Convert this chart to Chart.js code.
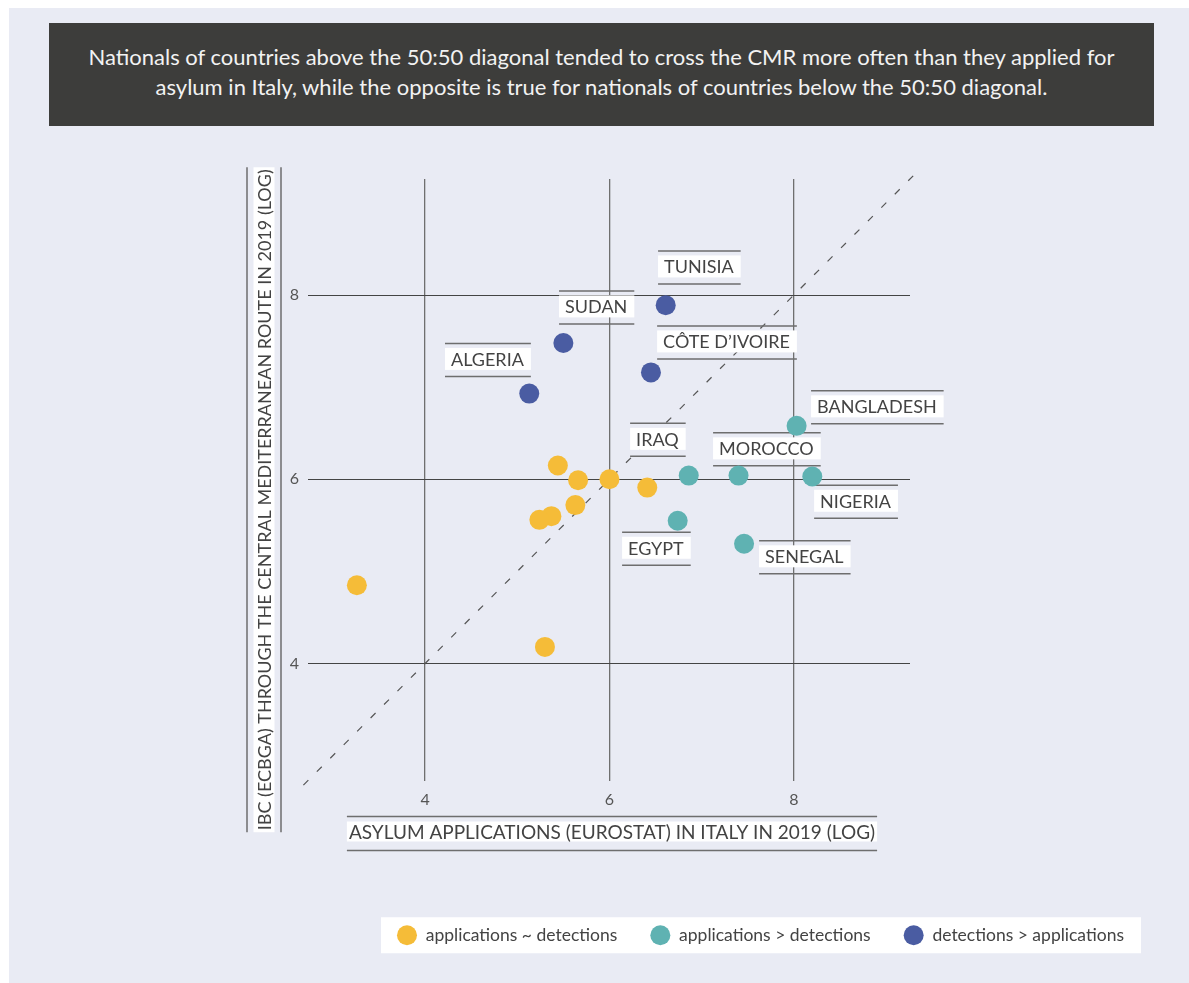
<!DOCTYPE html>
<html>
<head>
<meta charset="utf-8">
<script src="https://cdn.jsdelivr.net/npm/chart.js@4.4.1/dist/chart.umd.min.js"></script>
<style>
  html, body { margin: 0; padding: 0; background: #ffffff; }
  body { width: 1189px; height: 983px; position: relative; overflow: hidden; font-family: Lato, "Open Sans", sans-serif; }
  #panel { position: absolute; left: 9px; top: 8px; width: 1180px; height: 975px; background: #e9ebf4; }
  #headline { position: absolute; left: 49px; top: 23px; width: 1105px; height: 103px; background: #3d3d3b; color: #f2f2f2;
              font-size: 22px; line-height: 30px; text-align: center; display: flex; align-items: center; justify-content: center;
              box-sizing: border-box; padding-bottom: 5px; }
  #wrap { position: absolute; left: 0; top: 0; width: 1189px; height: 983px; }
</style>
</head>
<body>
<div id="panel"></div>
<div id="headline"><div>Nationals of countries above the 50:50 diagonal tended to cross the CMR more often than they applied for<br>asylum in Italy, while the opposite is true for nationals of countries below the 50:50 diagonal.</div></div>
<div id="wrap"><canvas id="c"></canvas></div>
<script>
// ---------- data ----------
const categories = ['applications ~ detections', 'applications > detections', 'detections > applications'];

const similarX  = [5.44, 5.66, 6.00, 6.41, 5.63, 5.37, 5.24, 3.26, 5.30];
const similarY  = [6.15, 5.99, 6.00, 5.91, 5.72, 5.60, 5.56, 4.85, 4.18];

const appsMoreX = [8.03, 6.86, 7.40, 8.20, 6.74, 7.46];
const appsMoreY = [6.58, 6.04, 6.04, 6.03, 5.55, 5.30];

const detMoreX  = [6.61, 5.50, 6.45, 5.13];
const detMoreY  = [7.89, 7.48, 7.16, 6.93];

const tickValues = [4, 6, 8];
const axisRange  = [2.73, 9.26];
const diagonal   = [2.68, 9.34];

const xTitle = 'ASYLUM APPLICATIONS (EUROSTAT) IN ITALY IN 2019 (LOG)';
const yTitle = 'IBC (ECBGA) THROUGH THE CENTRAL MEDITERRANEAN ROUTE IN 2019 (LOG)';

const countryNames = ['TUNISIA', 'SUDAN', 'CÔTE D’IVOIRE', 'ALGERIA', 'BANGLADESH', 'IRAQ', 'MOROCCO', 'NIGERIA', 'EGYPT', 'SENEGAL'];
// anchor of each label box (left edge, vertical centre) in data units
const labelAnchorX = [6.527, 5.453, 6.517, 4.216, 8.187, 6.224, 7.124, 8.220, 6.137, 7.623];
const labelAnchorY = [8.300, 7.866, 7.486, 7.296, 6.781, 6.428, 6.325, 5.756, 5.246, 5.153];

// ---------- styles ----------
const colors = ['#f5bc38', '#5fb2b2', '#4a5ca2'];
const FONT = 'Lato, "Open Sans", sans-serif';
const textColor = '#434343';

function pts(xs, ys) { return xs.map((x, i) => ({ x: x, y: ys[i] })); }

const decor = {
  id: 'decor',
  beforeDraw(chart) {
    const ctx = chart.ctx;
    const ca = chart.chartArea;
    // legend white background
    const lg = chart.legend;
    if (lg && lg.legendHitBoxes && lg.legendHitBoxes.length) {
      let l = Infinity, r = -Infinity, cy = 0;
      lg.legendHitBoxes.forEach(b => { l = Math.min(l, b.left); r = Math.max(r, b.left + b.width); cy = b.top + b.height / 2; });
      ctx.save();
      ctx.fillStyle = '#ffffff';
      ctx.fillRect(l - 16, cy - 18, r - l + 33, 36);
      ctx.restore();
    }
    ctx.save();
    ctx.textAlign = 'center';
    ctx.textBaseline = 'middle';
    ctx.strokeStyle = '#6e6e6e';
    ctx.lineWidth = 1.5;
    // x title
    ctx.font = '19px ' + FONT;
    const xc = (ca.left + ca.right) / 2 + 3;
    const yc = ca.bottom + 51;
    let w = ctx.measureText(xTitle).width;
    ctx.fillStyle = '#ffffff';
    ctx.fillRect(xc - w / 2 - 2, yc - 10, w + 4, 20);
    ctx.beginPath();
    ctx.moveTo(xc - w / 2 - 2, yc - 15); ctx.lineTo(xc + w / 2 + 2, yc - 15);
    ctx.moveTo(xc - w / 2 - 2, yc + 19); ctx.lineTo(xc + w / 2 + 2, yc + 19);
    ctx.stroke();
    ctx.fillStyle = textColor;
    ctx.fillText(xTitle, xc, yc + 1);
    // y title
    ctx.font = '18px ' + FONT;
    const tx = ca.left - 44;
    const ty = (ca.top + ca.bottom) / 2 + 20;
    ctx.translate(tx, ty);
    ctx.rotate(-Math.PI / 2);
    w = ctx.measureText(yTitle).width;
    ctx.fillStyle = '#ffffff';
    ctx.fillRect(-w / 2 - 2, -10.5, w + 4, 21);
    ctx.beginPath();
    ctx.moveTo(-w / 2 - 2, -17); ctx.lineTo(w / 2 + 2, -17);
    ctx.moveTo(-w / 2 - 2, 17); ctx.lineTo(w / 2 + 2, 17);
    ctx.stroke();
    ctx.fillStyle = textColor;
    ctx.fillText(yTitle, 0, 1);
    ctx.restore();
  },
  afterDatasetDraw(chart, args) {
    if (args.index !== 3) return; // after the diagonal, before the dots
    const ctx = chart.ctx;
    const xs = chart.scales.x, ys = chart.scales.y;
    ctx.save();
    ctx.font = '18px ' + FONT;
    ctx.textBaseline = 'middle';
    ctx.textAlign = 'left';
    countryNames.forEach((name, i) => {
      const px = xs.getPixelForValue(labelAnchorX[i]);
      const cy = ys.getPixelForValue(labelAnchorY[i]);
      const w = ctx.measureText(name).width + 13;
      ctx.fillStyle = '#ffffff';
      ctx.fillRect(px, cy - 12, w, 22);
      ctx.strokeStyle = '#6e6e6e';
      ctx.lineWidth = 1.5;
      ctx.beginPath();
      ctx.moveTo(px, cy - 16.5); ctx.lineTo(px + w, cy - 16.5);
      ctx.moveTo(px, cy + 16.5); ctx.lineTo(px + w, cy + 16.5);
      ctx.stroke();
      ctx.fillStyle = textColor;
      ctx.fillText(name, px + 6, cy);
    });
    ctx.restore();
  }
};

function make() {
  new Chart(document.getElementById('c'), {
    type: 'scatter',
    data: {
      datasets: [
        { label: categories[0], data: pts(similarX, similarY), backgroundColor: colors[0], borderWidth: 0, pointRadius: 10, pointHoverRadius: 10, order: 0 },
        { label: categories[1], data: pts(appsMoreX, appsMoreY), backgroundColor: colors[1], borderWidth: 0, pointRadius: 10, pointHoverRadius: 10, order: 0 },
        { label: categories[2], data: pts(detMoreX, detMoreY), backgroundColor: colors[2], borderWidth: 0, pointRadius: 10, pointHoverRadius: 10, order: 0 },
        { label: '50:50', data: diagonal.map(v => ({ x: v, y: v })), showLine: true, borderColor: '#555555', borderWidth: 1.2,
          borderDash: [7, 12], pointRadius: 0, fill: false, clip: false, order: 1 }
      ]
    },
    options: {
      responsive: true,
      maintainAspectRatio: false,
      animation: false,
      events: [],
      layout: { padding: { left: 248, right: 32, top: 179, bottom: 29 } },
      plugins: {
        tooltip: { enabled: false },
        legend: {
          position: 'bottom',
          align: 'end',
          labels: {
            filter: item => item.datasetIndex < 3,
            usePointStyle: true,
            pointStyle: 'circle',
            pointStyleWidth: 20,
            boxWidth: 20,
            boxHeight: 14,
            padding: 33,
            color: textColor,
            font: { size: 17.5, family: FONT }
          }
        }
      },
      scales: {
        x: {
          type: 'linear',
          min: axisRange[0], max: axisRange[1],
          afterBuildTicks: s => { s.ticks = tickValues.map(v => ({ value: v })); },
          afterFit: s => { s.height = 113; },
          grid: { color: '#6f6f6f', lineWidth: 1.3, drawTicks: false },
          border: { display: false },
          ticks: { padding: 10, color: '#555555', font: { size: 16, family: FONT }, callback: v => String(v) }
        },
        y: {
          type: 'linear',
          min: axisRange[0], max: axisRange[1],
          afterBuildTicks: s => { s.ticks = tickValues.map(v => ({ value: v })); },
          afterFit: s => { s.width = 60; },
          grid: { color: '#444444', lineWidth: 1.1, drawTicks: false },
          border: { display: false },
          ticks: { padding: 9, color: '#555555', font: { size: 16, family: FONT }, callback: v => String(v) }
        },
        y2: {
          type: 'linear',
          position: 'right',
          display: true,
          afterFit: s => { s.width = 247; },
          grid: { display: false },
          border: { display: false },
          ticks: { display: false }
        }
      }
    },
    plugins: [decor]
  });
}

const fontReady = document.fonts && document.fonts.load
  ? Promise.race([Promise.all([document.fonts.load('18px Lato'), document.fonts.load('16px Lato')]), new Promise(r => setTimeout(r, 800))])
  : Promise.resolve();
fontReady.then(make, make);
</script>
</body>
</html>
